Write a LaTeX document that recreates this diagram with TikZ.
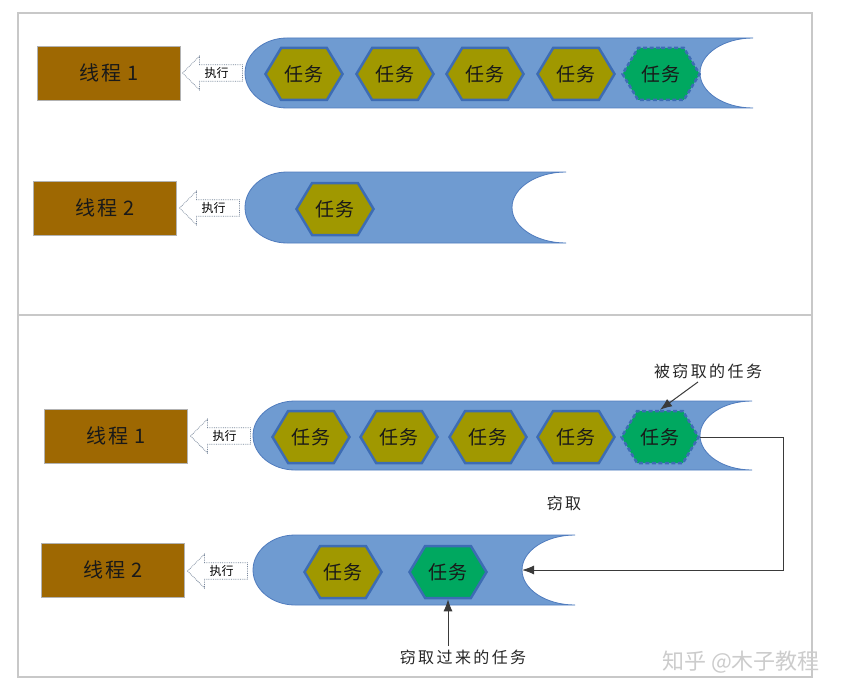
\documentclass[tikz,border=0pt]{standalone}
\usepackage{fontspec}
\setmainfont{Noto Sans CJK SC}
\newfontfamily\cjk{Noto Sans CJK SC}
\newfontfamily\cjkls[LetterSpace=15]{Noto Sans CJK SC}
\newfontfamily\cjkwide[LetterSpace=10]{Noto Sans CJK SC}
\usetikzlibrary{shapes.symbols,shapes.arrows,arrows.meta}
\definecolor{threadbrown}{RGB}{158,104,2}
\definecolor{queueblue}{RGB}{111,155,209}
\definecolor{queueedge}{RGB}{80,124,190}
\definecolor{taskolive}{RGB}{160,152,0}
\definecolor{taskedge}{RGB}{61,108,180}
\definecolor{taskgreen}{RGB}{0,168,96}
\definecolor{framegray}{RGB}{200,200,200}
\definecolor{dotgray}{RGB}{120,135,155}
\definecolor{connline}{RGB}{58,58,58}
\newcommand{\queuepath}[5]{% xl, xr, xc, yt, yb
  \filldraw[queuestyle] (#2,#4) -- ({#1+42},#4)
    .. controls ({#1+19},#4) and (#1,{(#4+#5)/2-0.55*(#5-#4)/2}) .. (#1,{(#4+#5)/2})
    .. controls (#1,{(#4+#5)/2+0.55*(#5-#4)/2}) and ({#1+19},#5) .. ({#1+42},#5)
    -- (#2,#5)
    .. controls ({#2-0.55*(#2-#3)},#5) and (#3,{(#4+#5)/2+0.55*(#5-#4)/2}) .. (#3,{(#4+#5)/2})
    .. controls (#3,{(#4+#5)/2-0.55*(#5-#4)/2}) and ({#2-0.55*(#2-#3)},#4) .. (#2,#4);
}
\tikzset{
  queuestyle/.style={fill=queueblue, draw=queueedge, line width=0.8pt},
  thread/.style={rectangle, fill=threadbrown, draw=gray!60, line width=0.6pt,
    minimum width=143pt, minimum height=54pt, inner sep=0pt, text=black!90,
    font=\fontsize{20}{20}\selectfont\cjkwide},
  task/.style={signal, signal to=east and west, signal pointer angle=118,
    minimum width=77pt, minimum height=52pt, inner sep=0pt, text=black!90,
    fill=taskolive, draw=taskedge, line width=2.5pt,
    font=\fontsize{19}{19}\selectfont\cjkwide},
  stolen/.style={task, fill=taskgreen, dashed, dash pattern=on 4pt off 2.5pt},
  gained/.style={task, fill=taskgreen},
  execarrow/.style={single arrow, shape border rotate=180, draw=dotgray,
    densely dotted, line width=0.8pt, fill=white, minimum height=60pt,
    minimum width=34pt, single arrow head extend=8.5pt, single arrow head indent=0pt,
    inner sep=2pt, font=\fontsize{12}{12}\selectfont},
  frame/.style={draw=framegray, line width=1.2pt},
  conn/.style={draw=connline, line width=1pt, -{Latex[length=12pt,width=9pt]}},
  label/.style={font=\fontsize{16}{16}\selectfont\cjkls, text=black!85}
}
\begin{document}
\begin{tikzpicture}[x=1pt,y=-1pt]
\useasboundingbox (0,0) rectangle (856,698);
\fill[white] (0,0) rectangle (856,698);
% frame
\draw[frame] (18,13) rectangle (812,677);
\draw[frame] (18,315) -- (812,315);

% ---------- top panel ----------
\queuepath{245}{753}{700}{38}{108}
\queuepath{245}{566}{512}{172}{243}

\node[thread] (t1) at (109,73) {线程 1};
\node[execarrow, anchor=tip] (e1) at (182,73) {执行};
\node[task] (a1) at (304,74) {任务};
\node[task] (a2) at (395,74) {任务};
\node[task] (a3) at (485,74) {任务};
\node[task] (a4) at (576,74) {任务};
\node[stolen] (a5) at (661,74) {任务};

\node[thread] (t2) at (105,208) {线程 2};
\node[execarrow, anchor=tip] (e2) at (179,208) {执行};
\node[task] (b1) at (335,209) {任务};

% ---------- bottom panel ----------
\queuepath{253}{752}{700}{401}{470}
\queuepath{253}{575}{522}{535}{605}

\node[thread] (t3) at (116,436) {线程 1};
\node[execarrow, anchor=tip] (e3) at (190,436) {执行};
\node[task] (c1) at (311,437) {任务};
\node[task] (c2) at (399,437) {任务};
\node[task] (c3) at (488,437) {任务};
\node[task] (c4) at (576,437) {任务};
\node[stolen] (c5) at (660,437) {任务};

\node[thread] (t4) at (113,570) {线程 2};
\node[execarrow, anchor=tip] (e4) at (187,571) {执行};
\node[task] (d1) at (343,572) {任务};
\node[gained] (d2) at (448,572) {任务};

% labels and connectors
\node[label] (lab1) at (708,371) {被窃取的任务};
\node[label] (lab3) at (564,503) {窃取};
\node[label] (lab2) at (463,657) {窃取过来的任务};

\coordinate (turn) at (783,437);
\coordinate (cut2) at (522,570);
\draw[conn] (c5.east) -- (turn) |- (cut2);
\draw[conn] ([xshift=-10pt]lab1.south) -- (c5.north);
\draw[conn] (lab2.north -| d2.south) -- (d2.south);

% watermark
\node[text=gray!40, font=\fontsize{22}{22}\selectfont] (wm) at (741,662) {知乎 @木子教程};
\end{tikzpicture}
\end{document}
